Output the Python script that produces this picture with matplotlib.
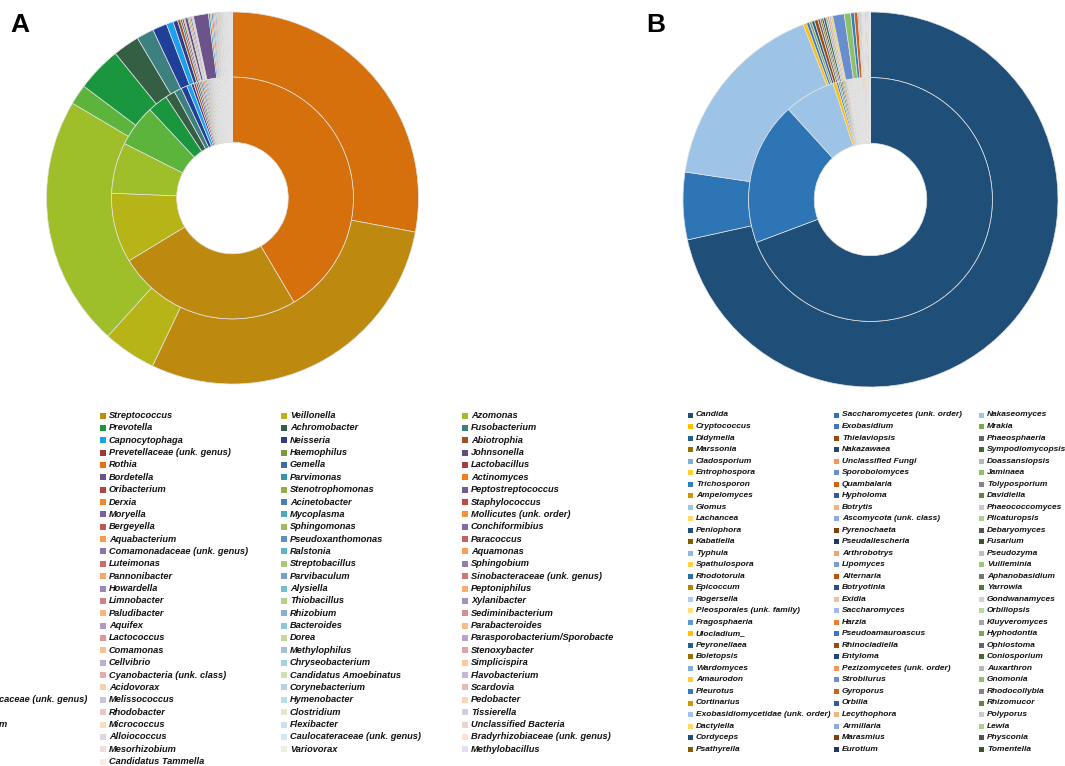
import colorsys
import matplotlib.pyplot as plt
from matplotlib.colors import to_rgb
from matplotlib.patches import Rectangle

W, H = 1065, 766

# ---------------- panel A : bacteria ----------------
# legend as printed; a 4th column sits left of these and is cut off in the source
bact_col1 = ['Streptococcus', 'Prevotella', 'Capnocytophaga', 'Prevetellaceae (unk. genus)',
             'Rothia', 'Bordetella', 'Oribacterium', 'Derxia', 'Moryella', 'Bergeyella',
             'Aquabacterium', 'Comamonadaceae (unk. genus)', 'Luteimonas', 'Pannonibacter',
             'Howardella', 'Limnobacter', 'Paludibacter', 'Aquifex', 'Lactococcus', 'Comamonas',
             'Cellvibrio', 'Cyanobacteria (unk. class)', 'Acidovorax', 'Melissococcus',
             'Rhodobacter', 'Micrococcus', 'Alloiococcus', 'Mesorhizobium', 'Candidatus Tammella']
bact_col2 = ['Veillonella', 'Achromobacter', 'Neisseria', 'Haemophilus', 'Gemella', 'Parvimonas',
             'Stenotrophomonas', 'Acinetobacter', 'Mycoplasma', 'Sphingomonas', 'Pseudoxanthomonas',
             'Ralstonia', 'Streptobacillus', 'Parvibaculum', 'Alysiella', 'Thiobacillus', 'Rhizobium',
             'Bacteroides', 'Dorea', 'Methylophilus', 'Chryseobacterium', 'Candidatus Amoebinatus',
             'Corynebacterium', 'Hymenobacter', 'Clostridium', 'Flexibacter',
             'Caulocateraceae (unk. genus)', 'Variovorax']
bact_col3 = ['Azomonas', 'Fusobacterium', 'Abiotrophia', 'Johnsonella', 'Lactobacillus', 'Actinomyces',
             'Peptostreptococcus', 'Staphylococcus', 'Mollicutes (unk. order)', 'Conchiformibius',
             'Paracoccus', 'Aquamonas', 'Sphingobium', 'Sinobacteraceae (unk. genus)', 'Peptoniphilus',
             'Xylanibacter', 'Sediminibacterium', 'Parabacteroides', 'Parasporobacterium/Sporobacte',
             'Stenoxybacter', 'Simplicispira', 'Flavobacterium', 'Scardovia', 'Pedobacter', 'Tissierella',
             'Unclassified Bacteria', 'Bradyrhizobiaceae (unk. genus)', 'Methylobacillus']
bact_cut = {23: 'caceae (unk. genus)', 25: 'm'}   # visible tails of the cut-off column

# slice sizes (%) per genus, genus order = row-major over the 4 legend columns
bact_inner = [41.5, 24.8, 9.3, 6.8, 5.6, 2.7, 1.3, 1.0, 0.8, 0.6,
              0.35, 0.3, 0.25, 0.22, 0.2, 0.2, 0.18, 0.18, 0.16, 0.15,
              0.15, 0.14, 0.13, 0.12, 0.12, 0.11, 0.1, 0.1, 0.1, 0.09,
              0.09, 0.08, 0.08, 0.08, 0.07, 0.07, 0.07, 0.06, 0.06, 0.06,
              0.05, 0.05, 0.05, 0.05, 0.04, 0.04, 0.04, 0.04, 0.04, 0.03,
              0.08, 0.07, 0.07, 0.06, 0.06, 0.06, 0.06, 0.05, 0.05, 0.05,
              0.05, 0.05, 0.05, 0.05, 0.05, 0.04, 0.04, 0.04, 0.04, 0.04]
bact_outer = [27.9, 29.1, 4.6, 21.8, 1.75, 3.9, 2.3, 1.5, 1.25, 0.6,
              0.4, 0.25, 0.15, 0.15, 0.1, 0.25, 0.1, 0.12, 0.12, 0.08,
              0.08, 1.3, 0.15, 0.12, 0.12, 0.1, 0.1, 0.1, 0.09, 0.09,
              0.08, 0.08, 0.08, 0.07, 0.07, 0.07, 0.04, 0.04, 0.04, 0.04,
              0.04, 0.04, 0.04, 0.04, 0.04, 0.04, 0.025, 0.025, 0.025, 0.025,
              0.025, 0.025, 0.025, 0.025, 0.025, 0.025, 0.01, 0.01, 0.01, 0.01,
              0.01, 0.01, 0.01, 0.01, 0.01, 0.01]

# ---------------- panel B : fungi ----------------
fungi_col1 = ['Candida', 'Cryptococcus', 'Didymella', 'Marssonia', 'Cladosporium', 'Entrophospora',
              'Trichosporon', 'Ampelomyces', 'Glomus', 'Lachancea', 'Peniophora', 'Kabatiella', 'Typhula',
              'Spathulospora', 'Rhodotorula', 'Epicoccum', 'Rogersella', 'Pleosporales (unk. family)',
              'Fragosphaeria', 'Ulocladium_', 'Peyronellaea', 'Boletopsis', 'Wardomyces', 'Amaurodon',
              'Pleurotus', 'Cortinarius', 'Exobasidiomycetidae (unk. order)', 'Dactylella', 'Cordyceps',
              'Psathyrella']
fungi_col2 = ['Saccharomycetes (unk. order)', 'Exobasidium', 'Thielaviopsis', 'Nakazawaea',
              'Unclassified Fungi', 'Sporobolomyces', 'Quambalaria', 'Hypholoma', 'Botrytis',
              'Ascomycota (unk. class)', 'Pyrenochaeta', 'Pseudallescheria', 'Arthrobotrys', 'Lipomyces',
              'Alternaria', 'Botryotinia', 'Exidia', 'Saccharomyces', 'Harzia', 'Pseudoamauroascus',
              'Rhinocladiella', 'Entyloma', 'Pezizomycetes (unk. order)', 'Strobilurus', 'Gyroporus',
              'Orbilia', 'Lecythophora', 'Armillaria', 'Marasmius', 'Eurotium']
fungi_col3 = ['Nakaseomyces', 'Mrakia', 'Phaeosphaeria', 'Sympodiomycopsis', 'Doassansiopsis', 'Jaminaea',
              'Tolyposporium', 'Davidiella', 'Phaeococcomyces', 'Plicaturopsis', 'Debaryomyces', 'Fusarium',
              'Pseudozyma', 'Vuilleminia', 'Aphanobasidium', 'Yarrowia', 'Gondwanamyces', 'Orbiliopsis',
              'Kluyveromyces', 'Hyphodontia', 'Ophiostoma', 'Coniosporium', 'Auxarthron', 'Gnomonia',
              'Rhodocollybia', 'Rhizomucor', 'Polyporus', 'Lewia', 'Physconia', 'Tomentella']

fungi_inner = [69.4, 19.0, 6.8, 0.45, 0.25, 0.22, 0.2, 0.18, 0.15, 0.15,
               0.12, 0.12, 0.1, 0.1, 0.1, 0.09, 0.09, 0.08, 0.08, 0.08,
               0.07, 0.07, 0.07, 0.06, 0.06, 0.06, 0.12, 0.05, 0.05, 0.05,
               0.05, 0.05, 0.05, 0.04, 0.04, 0.04, 0.04, 0.04, 0.04, 0.04,
               0.04, 0.04, 0.04, 0.04, 0.04, 0.04, 0.04, 0.04, 0.15, 0.15,
               0.2, 0.15, 0.12, 0.12, 0.03, 0.03, 0.03, 0.03]
fungi_outer = [71.5, 5.8, 16.8, 0.3, 0.25, 0.2, 0.25, 0.3, 0.2, 0.15,
               0.15, 0.2, 0.15, 0.15, 0.15, 0.15, 1.0, 0.55, 0.3, 0.3,
               0.1, 0.08, 0.08, 0.07, 0.07, 0.06, 0.06, 0.06, 0.05, 0.05,
               0.05, 0.05, 0.04, 0.04, 0.04, 0.04, 0.03, 0.03, 0.03, 0.03,
               0.03]


# ---------------- colours ----------------
def lum(col, mod, off=0.0):
    r, g, b = to_rgb(col)
    h, l, s = colorsys.rgb_to_hls(r, g, b)
    return colorsys.hls_to_rgb(h, min(1.0, l * mod + off), s)


# panel A: hand-picked top genera, then Excel 2007 accents graded dark -> pale
bact_fixed = {0: '#D5700D', 1: '#BD8A0F', 2: '#B7B418', 3: '#9EBE2A', 4: '#5DB43C',
              5: '#1A963F', 6: '#355F45', 7: '#3D8080', 8: '#1F3F99', 9: '#1BA0F0',
              10: '#2E3A8C', 11: '#A0521E'}
accents07 = ['#4F81BD', '#C0504D', '#9BBB59', '#8064A2', '#4BACC6', '#F79646']


def bact_color(i):
    if i in bact_fixed:
        return bact_fixed[i]
    t = (i // 6) / 18
    shade = -0.35 + 1.15 * t
    base = accents07[i % 6]
    if shade < 0:
        return lum(base, 1 + shade)
    return lum(base, 1 - shade, shade)


# panel B: Office 2013 accents with the standard series variations
fungi_fixed = {0: '#1F4E79', 1: '#2E75B6', 2: '#9DC3E6'}
accents13 = ['#5B9BD5', '#ED7D31', '#A5A5A5', '#FFC000', '#4472C4', '#70AD47']
variants = [(1, 0), (0.6, 0), (0.8, 0.2), (0.8, 0), (0.6, 0.4),
            (0.5, 0), (0.7, 0.3), (0.7, 0), (0.5, 0.5)]


def fungi_color(i):
    if i in fungi_fixed:
        return fungi_fixed[i]
    mod, off = variants[(i // 6) % len(variants)]
    return lum(accents13[i % 6], mod, off)


def donut(cx, cy, R, inner, outer, colfn):
    ax = fig.add_axes([(cx - R) / W, 1 - (cy + R) / H, 2 * R / W, 2 * R / H])
    for vals, rad in ((outer, 1.0), (inner, 0.65)):
        idx = [i for i, v in enumerate(vals) if v > 0]
        ax.pie([vals[i] for i in idx], colors=[colfn(i) for i in idx], radius=rad,
               startangle=90, counterclock=False,
               wedgeprops=dict(width=0.35, edgecolor='#e4e4e4', linewidth=0.5))
    ax.set_xlim(-1.0, 1.0)
    ax.set_ylim(-1.0, 1.0)
    ax.axis('off')


fig = plt.figure(figsize=(W / 100, H / 100), dpi=100)
fig.patch.set_facecolor('white')

donut(232.5, 198, 186, bact_inner, bact_outer, bact_color)
donut(870.5, 199.5, 187.5, fungi_inner, fungi_outer, fungi_color)

# legends drawn in pixel coordinates
lg = fig.add_axes([0, 0, 1, 1], zorder=-1)
lg.set_xlim(0, W)
lg.set_ylim(H, 0)
lg.axis('off')
fam = ['Liberation Sans', 'DejaVu Sans']

lg.text(20, 25, 'A', fontsize=19, fontweight='bold', family=fam, ha='center', va='center')
lg.text(656, 25, 'B', fontsize=19, fontweight='bold', family=fam, ha='center', va='center')

y0, dy = 415.5, 12.36
for c, (col, xm) in enumerate(zip([bact_col1, bact_col2, bact_col3], [100, 281, 462])):
    for r, name in enumerate(col):
        y = y0 + r * dy
        lg.add_patch(Rectangle((xm, y - 3), 6, 6, color=bact_color(4 * r + c + 1), lw=0))
        lg.text(xm + 9, y, name, fontsize=6.7, fontweight='bold', style='italic',
                family=fam, va='center', ha='left', color='#111111')
cut_right = {23: 87, 25: 7}
for r, frag in bact_cut.items():
    lg.text(cut_right[r], y0 + r * dy, frag, fontsize=6.7, fontweight='bold', style='italic',
            family=fam, va='center', ha='right', color='#111111')

y0, dy = 415.0, 11.52
for c, (col, xm) in enumerate(zip([fungi_col1, fungi_col2, fungi_col3], [688, 834, 979])):
    for r, name in enumerate(col):
        y = y0 + r * dy
        lg.add_patch(Rectangle((xm, y - 2.5), 5, 5, color=fungi_color(3 * r + c), lw=0))
        lg.text(xm + 8, y, name, fontsize=6.0, fontweight='bold', style='italic',
                family=fam, va='center', ha='left', color='#111111')

fig.savefig('out.png', dpi=100, facecolor='white')
